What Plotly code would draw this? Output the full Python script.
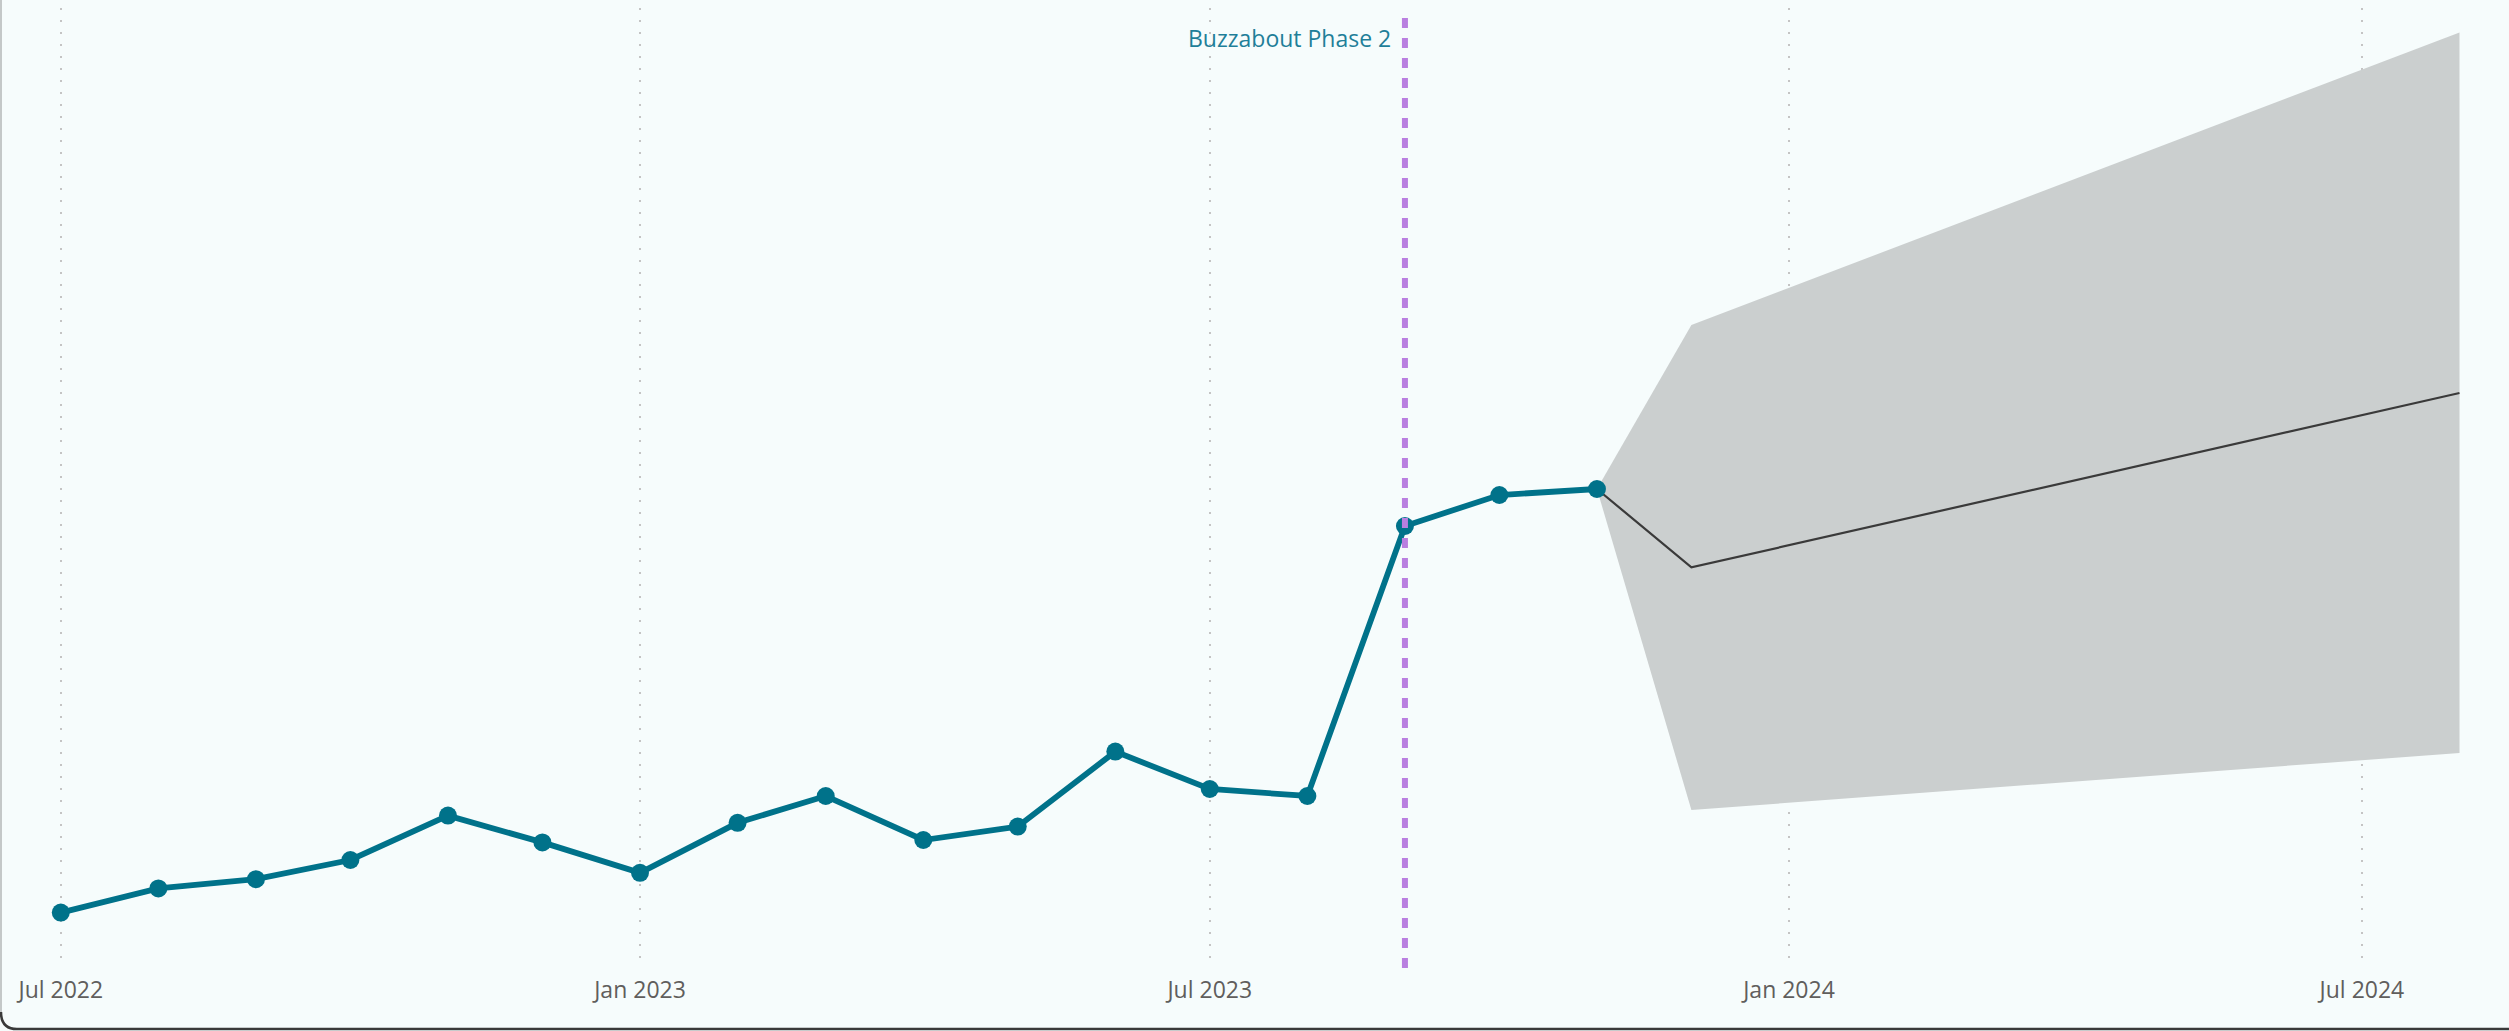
import plotly.graph_objects as go

# ---- data ----
months = ["2022-07-01", "2022-08-01", "2022-09-01", "2022-10-01", "2022-11-01", "2022-12-01",
          "2023-01-01", "2023-02-01", "2023-03-01", "2023-04-01", "2023-05-01", "2023-06-01",
          "2023-07-01", "2023-08-01", "2023-09-01", "2023-10-01", "2023-11-01"]
actual = [277, 398, 444, 540, 762, 628, 476, 726, 860, 640, 707, 1082,
          895, 860, 2210, 2365, 2395]

fc_dates = ["2023-11-01", "2023-12-01", "2024-08-01"]
fc_mid = [2395, 2003, 2875]
fc_upper = [2395, 3215, 4678]
fc_lower = [2395, 790, 1075]

event_date = "2023-09-01"
event_label = "Buzzabout Phase 2"

tick_start = "2022-07-01"
x_range = ["2022-06-18 01:00", "2024-08-10 09:00"]
y_range = [0, 4800]

# ---- style ----
BG = "#F6FCFC"
TEAL = "#00728A"
PURPLE = "#B97FE0"
BAND = "#CBCFCF"
FONT = "Segoe UI, Open Sans, sans-serif"

fig = go.Figure()

fig.add_trace(go.Scatter(x=fc_dates, y=fc_upper, mode="lines", line=dict(width=0, color=BAND),
                         hoverinfo="skip", showlegend=False))
fig.add_trace(go.Scatter(x=fc_dates, y=fc_lower, mode="lines", line=dict(width=0, color=BAND),
                         fill="tonexty", fillcolor=BAND, hoverinfo="skip", showlegend=False))
fig.add_trace(go.Scatter(x=fc_dates, y=fc_mid, mode="lines", line=dict(width=2.2, color="#3A3A3A"),
                         showlegend=False))
fig.add_trace(go.Scatter(x=months, y=actual, mode="lines+markers",
                         line=dict(width=5.8, color=TEAL),
                         marker=dict(size=18, color=TEAL), showlegend=False))

# event line
fig.add_shape(type="line", xref="x", yref="paper", x0=event_date, x1=event_date, y0=0, y1=1,
              line=dict(color=PURPLE, width=6, dash="10px,10px"), layer="above")
fig.add_annotation(x=event_date, xref="x", y=0.969, yref="paper", text=event_label,
                   showarrow=False, xanchor="right", yanchor="middle", xshift=-12,
                   font=dict(family=FONT, size=23, color="#1F7F99"))

# card border (pixel -> paper conversion for the plot area 20..2489 x 8..968)
def px(v):
    return (v - 20) / 2469.0

def py(v):
    return (968 - v) / 960.0

fig.add_shape(type="line", xref="paper", yref="paper", x0=px(1), x1=px(1), y0=py(0), y1=py(1012),
              line=dict(color="#C4C8C8", width=2), layer="above")
r = 16
path = (f"M {px(1)},{py(1012)} Q {px(1)},{py(1029)} {px(1 + r)},{py(1029)} "
        f"L {px(2509)},{py(1029)}")
fig.add_shape(type="path", xref="paper", yref="paper", path=path,
              line=dict(color="#3A3A3A", width=2.5), layer="above")

fig.update_layout(
    width=2509, height=1031,
    margin=dict(l=20, r=20, t=8, b=63),
    paper_bgcolor=BG, plot_bgcolor=BG,
    font=dict(family=FONT, size=23, color="#605E5C"),
    xaxis=dict(type="date", range=x_range, tick0=tick_start, dtick="M6", tickformat="%b %Y",
               showgrid=True, gridcolor="#C4C4C4", gridwidth=2, griddash="2px,10px",
               showline=False, zeroline=False, ticks="", ticklabelstandoff=6,
               tickfont=dict(family=FONT, size=23, color="#605E5C")),
    yaxis=dict(range=y_range, visible=False, showgrid=False, zeroline=False),
    showlegend=False,
)

fig.write_html("out.html", config={"displayModeBar": False},
               post_script="document.body.style.margin='0';document.body.style.background='#F6FCFC';")
